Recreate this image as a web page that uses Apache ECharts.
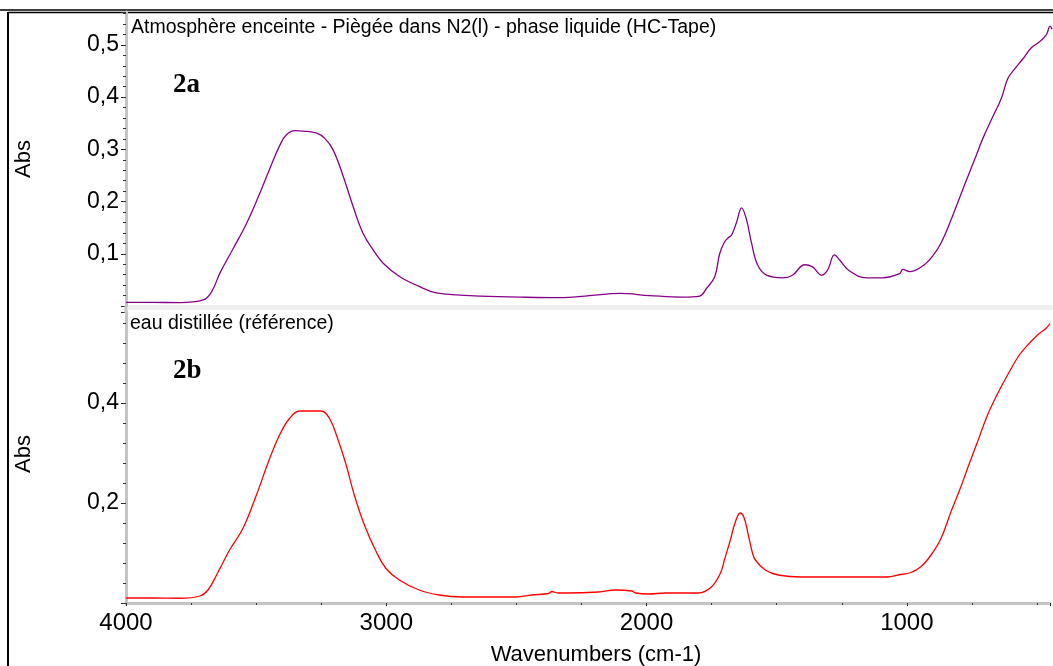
<!DOCTYPE html>
<html><head><meta charset="utf-8">
<script src="https://cdn.jsdelivr.net/npm/echarts@6/dist/echarts.min.js"></script>
<style>html,body{margin:0;padding:0;background:#fff}#c{width:1053px;height:666px}</style>
</head><body><div id="c"></div>
<script>
// ---- Data ----
const wn2a = [4000,3900,3793,3704,3672,3640,3589,3538,3487,3448,3410,3385,3352,3321,3269,3238,3206,3167,3129,3091,3052,3014,2950,2874,2810,2720,2644,2490,2337,2222,2107,1992,1866,1801,1774,1743,1724,1705,1690,1678,1659,1640,1621,1602,1579,1544,1483,1445,1398,1368,1333,1310,1284,1264,1226,1161,1100,1034,1022,996,945,907,875,830,785,747,715,683,644,619,593,562,530,498,472,457,450];
const abs2a = [0.007,0.007,0.0065,0.0115,0.027,0.063,0.110,0.158,0.216,0.264,0.308,0.328,0.336,0.335,0.331,0.321,0.299,0.248,0.190,0.139,0.107,0.082,0.056,0.037,0.025,0.021,0.019,0.017,0.016,0.020,0.024,0.020,0.017,0.019,0.034,0.056,0.100,0.123,0.131,0.136,0.161,0.188,0.165,0.121,0.079,0.059,0.054,0.059,0.079,0.075,0.059,0.069,0.098,0.088,0.067,0.054,0.054,0.062,0.070,0.066,0.077,0.096,0.121,0.174,0.232,0.280,0.321,0.356,0.398,0.436,0.454,0.473,0.494,0.506,0.519,0.536,0.530];
const wn2b = [4000,3900,3793,3716,3685,3652,3602,3551,3499,3448,3410,3372,3333,3250,3218,3187,3154,3123,3084,3039,3001,2950,2874,2797,2709,2502,2441,2376,2364,2340,2310,2184,2119,2057,2042,1992,1927,1801,1751,1716,1701,1678,1659,1640,1625,1609,1594,1582,1544,1494,1406,1073,1034,984,945,907,869,830,792,760,728,690,651,613,568,530,498,466,450];
const abs2b = [0.010,0.010,0.0095,0.014,0.026,0.056,0.106,0.149,0.216,0.289,0.336,0.369,0.384,0.384,0.369,0.329,0.276,0.216,0.156,0.103,0.069,0.046,0.026,0.016,0.012,0.012,0.016,0.019,0.023,0.020,0.020,0.022,0.026,0.024,0.020,0.018,0.020,0.020,0.032,0.060,0.086,0.126,0.162,0.180,0.170,0.136,0.102,0.086,0.066,0.056,0.052,0.052,0.056,0.061,0.073,0.096,0.129,0.183,0.233,0.279,0.323,0.376,0.419,0.456,0.496,0.519,0.536,0.549,0.559];
const xTickLabels = [4000, 3000, 2000, 1000];
const yTickLabelsTop = [0.1, 0.2, 0.3, 0.4, 0.5];
const yTickLabelsBottom = [0.2, 0.4];
const title2a = 'Atmosphère enceinte - Piègée dans N2(l) - phase liquide (HC-Tape)';
const title2b = 'eau distillée (référence)';

const FONT = '"Liberation Sans", Arial, sans-serif';
const pairs = (xs, ys) => xs.map((x, i) => [x, ys[i]]);
const fmtIn = list => v => {
  const hit = list.find(t => Math.abs(t - v) < 1e-6);
  return hit === undefined ? '' : String(hit).replace('.', ',');
};
const AXIS_GRAY = '#c4c4c4';

const chart = echarts.init(document.getElementById('c'), null, {renderer: 'canvas'});
const yMajor = (grid, max, interval, labels) => ({
  type: 'value', gridIndex: grid, position: 'left', min: 0, max: max, interval: interval,
  axisLine: {show: true, lineStyle: {color: AXIS_GRAY, width: 3}},
  axisTick: {show: true, length: 5, lineStyle: {color: '#222', width: 1}},
  axisLabel: {show: true, formatter: fmtIn(labels), fontSize: 23, fontFamily: FONT, color: '#000', margin: 7},
  splitLine: {show: false}
});
const yMinor = (grid, max, interval) => ({
  type: 'value', gridIndex: grid, position: 'left', offset: 0, min: 0, max: max, interval: interval,
  axisLine: {show: false}, axisLabel: {show: false}, splitLine: {show: false},
  axisTick: {show: true, length: 3, lineStyle: {color: '#333', width: 1}}
});

chart.setOption({
  animation: false,
  backgroundColor: '#fff',
  grid: [
    {left: 126, top: 12, width: 926, height: 294},
    {left: 126, top: 312, width: 926, height: 291}
  ],
  xAxis: [
    {type: 'value', gridIndex: 0, min: 450, max: 4000, inverse: true, show: false},
    {type: 'value', gridIndex: 1, min: 450, max: 4000, inverse: true,
     minInterval: 1000, maxInterval: 1000,
     axisLine: {show: true, lineStyle: {color: AXIS_GRAY, width: 3}},
     axisTick: {show: true, length: 3, lineStyle: {color: '#111', width: 1}},
     axisLabel: {formatter: fmtIn(xTickLabels), fontSize: 24, fontFamily: FONT, color: '#000', margin: 8},
     splitLine: {show: false}},
    {type: 'value', gridIndex: 1, min: 450, max: 4000, inverse: true,
     minInterval: 250, maxInterval: 250,
     axisLine: {show: false}, axisLabel: {show: false}, splitLine: {show: false},
     axisTick: {show: true, inside: true, length: 2, lineStyle: {color: '#333', width: 1}}}
  ],
  yAxis: [
    yMajor(0, 0.563, 0.1, yTickLabelsTop),
    yMinor(0, 0.563, 0.02),
    yMajor(1, 0.582, 0.2, yTickLabelsBottom),
    yMinor(1, 0.582, 0.04)
  ],
  series: [
    {type: 'line', xAxisIndex: 0, yAxisIndex: 0, data: pairs(wn2a, abs2a),
     showSymbol: false, smooth: 0.4,
     lineStyle: {color: '#880088', width: 1.3}, itemStyle: {color: '#880088'}},
    {type: 'line', xAxisIndex: 1, yAxisIndex: 2, data: pairs(wn2b, abs2b),
     showSymbol: false, smooth: 0.4,
     lineStyle: {color: '#ff0000', width: 1.3}, itemStyle: {color: '#ff0000'}}
  ],
  graphic: [
    {type: 'rect', shape: {x: 128, y: 305, width: 925, height: 5}, style: {fill: '#efefef'}, z: 0},
    {type: 'rect', shape: {x: 124.5, y: 305, width: 3, height: 8}, style: {fill: AXIS_GRAY}, z: 10},
    {type: 'line', shape: {x1: 0, y1: 10, x2: 1053, y2: 10}, style: {stroke: '#000', lineWidth: 1.5}},
    {type: 'line', shape: {x1: 8, y1: 12.5, x2: 1053, y2: 12.5}, style: {stroke: '#000', lineWidth: 1.5}},
    {type: 'line', shape: {x1: 8, y1: 12, x2: 8, y2: 666}, style: {stroke: '#000', lineWidth: 2}},
    {type: 'text', x: 131, y: 28, style: {text: title2a, font: '19.5px ' + FONT, fill: '#000', verticalAlign: 'middle'}},
    {type: 'text', x: 130, y: 324, style: {text: title2b, font: '19.5px ' + FONT, fill: '#000', verticalAlign: 'middle'}},
    {type: 'text', x: 173, y: 85, style: {text: '2a', font: 'bold 27px "Liberation Serif", "Times New Roman", serif', fill: '#000', verticalAlign: 'middle'}},
    {type: 'text', x: 173, y: 371, style: {text: '2b', font: 'bold 27px "Liberation Serif", "Times New Roman", serif', fill: '#000', verticalAlign: 'middle'}},
    {type: 'text', x: 23.5, y: 159, rotation: Math.PI / 2, style: {text: 'Abs', font: '22px ' + FONT, fill: '#000', align: 'center', verticalAlign: 'middle'}},
    {type: 'text', x: 23.5, y: 454, rotation: Math.PI / 2, style: {text: 'Abs', font: '22px ' + FONT, fill: '#000', align: 'center', verticalAlign: 'middle'}},
    {type: 'text', x: 596, y: 655, style: {text: 'Wavenumbers (cm-1)', font: '22px ' + FONT, fill: '#000', align: 'center', verticalAlign: 'middle'}}
  ]
});
</script></body></html>
